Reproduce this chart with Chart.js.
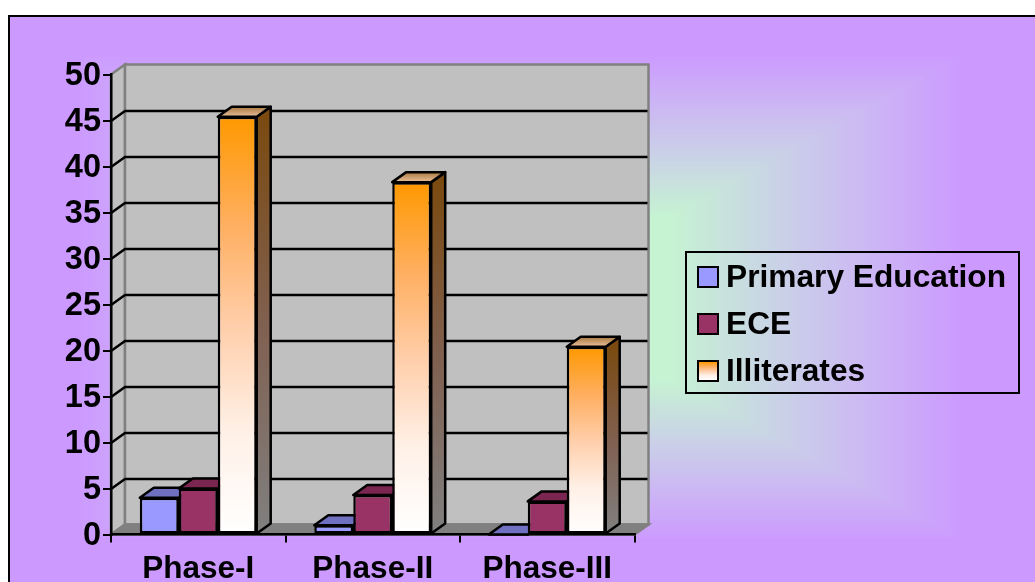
<!DOCTYPE html>
<html>
<head>
<meta charset="utf-8">
<title>Phases</title>
<script src="https://cdn.jsdelivr.net/npm/chart.js@4"></script>
<style>
  html, body { margin: 0; padding: 0; background: #fff; overflow: hidden; }
  #wrap { position: relative; width: 1035px; height: 582px; }
  #legendBox {
    position: absolute; left: 685px; top: 251px; width: 331px; height: 139px;
    border: 2.5px solid #000;
    font: bold 31.7px "Liberation Sans", Arial, sans-serif; color: #000;
  }
  .row { position: absolute; left: 0; height: 36px; line-height: 36px; white-space: nowrap; }
  .swatch {
    position: absolute; left: 9.5px; top: 7px; width: 18px; height: 18px;
    border: 2.5px solid #000;
  }
  .row span { position: absolute; left: 39px; top: -1px; }
</style>
</head>
<body>
<div id="wrap">
  <canvas id="chart" width="1035" height="582"></canvas>
  <div id="legendBox"></div>
</div>
<script>
const categories = ['Phase-I', 'Phase-II', 'Phase-III'];
const seriesNames = ['Primary Education', 'ECE', 'Illiterates'];
const primaryValues = [4, 1, 0];
const eceValues = [5, 4.3, 3.6];
const illiterateValues = [45.4, 38.3, 20.4];
const yTicks = [0, 5, 10, 15, 20, 25, 30, 35, 40, 45, 50];

// 3d look: how far the back wall is shifted from the front plane
const depthX = 14;
const depthY = 10;
const xFont = { family: '"Liberation Sans", Arial, sans-serif', weight: 'bold', size: 31.5 };
const yFont = { family: '"Liberation Sans", Arial, sans-serif', weight: 'bold', size: 32.5 };

const faceColors = ['#9999FF', '#993366'];
const topColors = ['#7070C0', '#7A2650'];
const sideColors = ['#4D4D80', '#4D1A33'];
const orangeStops = [[0, '#FF9900'], [0.25, '#FFAE5E'], [0.5, '#FFCEAA'], [0.75, '#FFF0E6'], [1, '#FFFFFF']];

function vGradient(ctx, y0, y1, stops) {
  const g = ctx.createLinearGradient(0, y0, 0, y1);
  stops.forEach(s => g.addColorStop(s[0], s[1]));
  return g;
}

// background: rectangular "from center" gradient, same shape as the frame
function mix(t) {
  const stops = [
    [0, 198, 244, 210], [0.33, 198, 244, 210], [0.55, 201, 214, 228],
    [0.75, 204, 188, 242], [1, 204, 153, 255]
  ];
  for (let i = 1; i < stops.length; i++) {
    if (t <= stops[i][0]) {
      const a = stops[i - 1], b = stops[i];
      const k = (t - a[0]) / (b[0] - a[0]);
      return `rgb(${a[1] + (b[1] - a[1]) * k},${a[2] + (b[2] - a[2]) * k},${a[3] + (b[3] - a[3]) * k})`;
    }
  }
  return '#CC99FF';
}

function face(ctx, pts, fill) {
  ctx.beginPath();
  pts.forEach((p, i) => i ? ctx.lineTo(p[0], p[1]) : ctx.moveTo(p[0], p[1]));
  ctx.closePath();
  ctx.fillStyle = fill;
  ctx.fill();
  ctx.stroke();
}

const walls = {
  id: 'walls',
  beforeDraw(chart) {
    const ctx = chart.ctx;
    const { left, right, top, bottom } = chart.chartArea;
    ctx.save();
    ctx.fillStyle = '#fff';
    ctx.fillRect(0, 0, 1035, 582);
    ctx.fillStyle = '#CC99FF';
    ctx.fillRect(8, 15, 1027, 567);
    for (let i = 150; i >= 0; i--) {
      const t = i / 150;
      ctx.fillStyle = mix(t);
      ctx.fillRect(521 - 445 * t, 298 - 245 * t, 890 * t, 490 * t);
    }
    ctx.fillStyle = '#000';
    ctx.fillRect(8, 15, 2, 567);
    ctx.fillRect(8, 15, 1027, 2);

    // side wall, back wall, floor
    ctx.strokeStyle = '#808080';
    ctx.lineWidth = 2.5;
    ctx.lineJoin = 'miter';
    face(ctx, [[left, top], [left + depthX, top - depthY], [left + depthX, bottom - depthY], [left, bottom]], '#C0C0C0');
    face(ctx, [[left + depthX, top - depthY], [right + depthX, top - depthY], [right + depthX, bottom - depthY], [left + depthX, bottom - depthY]], '#C0C0C0');
    face(ctx, [[left, bottom], [left + depthX, bottom - depthY], [right + depthX, bottom - depthY], [right, bottom]], '#808080');

    // gridlines run along the side wall and across the back wall
    const y = chart.scales.y;
    ctx.strokeStyle = '#000';
    ctx.lineWidth = 2.5;
    yTicks.slice(1, -1).forEach(v => {
      const py = Math.round(y.getPixelForValue(v));
      ctx.beginPath();
      ctx.moveTo(left, py);
      ctx.lineTo(left + depthX, py - depthY);
      ctx.lineTo(right + depthX - 1, py - depthY);
      ctx.stroke();
    });
    ctx.restore();
  }
};

const barDepth = {
  id: 'barDepth',
  beforeDatasetsDraw(chart) {
    const ctx = chart.ctx;
    ctx.save();
    ctx.strokeStyle = '#000';
    ctx.lineWidth = 2.5;
    ctx.lineJoin = 'round';
    chart.data.datasets.forEach((ds, d) => {
      chart.getDatasetMeta(d).data.forEach(bar => {
        const x0 = bar.x - bar.width / 2;
        const x1 = bar.x + bar.width / 2;
        const top = bar.y;
        const base = bar.base;
        let sideFill = sideColors[d];
        let topFill = topColors[d];
        if (d === 2) {
          sideFill = vGradient(ctx, top, base, [[0, '#7A4A10'], [0.5, '#806050'], [1, '#808080']]);
          topFill = vGradient(ctx, top - depthY, top, [[0, '#A87840'], [1, '#EAC09A']]);
        }
        face(ctx, [[x1, top], [x1 + depthX, top - depthY], [x1 + depthX, base - depthY], [x1, base]], sideFill);
        face(ctx, [[x0, top], [x0 + depthX, top - depthY], [x1 + depthX, top - depthY], [x1, top]], topFill);
      });
    });
    ctx.restore();
  }
};

function illiterateFill(context) {
  const chart = context.chart;
  const y = chart.scales.y;
  if (!y || context.raw === undefined) return '#FF9900';
  const y0 = y.getPixelForValue(context.raw);
  const y1 = y.getPixelForValue(0);
  if (!isFinite(y0) || !isFinite(y1)) return '#FF9900';
  return vGradient(chart.ctx, y0, y1, orangeStops);
}

const barStyle = {
  borderColor: '#000',
  borderWidth: 2.5,
  borderSkipped: false,
  barPercentage: 1,
  categoryPercentage: 0.67
};

new Chart(document.getElementById('chart'), {
  type: 'bar',
  data: {
    labels: categories,
    datasets: [
      { label: seriesNames[0], data: primaryValues, backgroundColor: faceColors[0], ...barStyle },
      { label: seriesNames[1], data: eceValues, backgroundColor: faceColors[1], ...barStyle },
      { label: seriesNames[2], data: illiterateValues, backgroundColor: illiterateFill, ...barStyle }
    ]
  },
  plugins: [walls, barDepth],
  options: {
    responsive: false,
    animation: false,
    layout: { padding: { left: 0, top: 74.5, right: 400.5, bottom: 0 } },
    plugins: { legend: { display: false }, title: { display: false }, tooltip: { enabled: false } },
    scales: {
      x: {
        afterFit(scale) { scale.height = 47.5; },
        border: { color: '#000', width: 2.5 },
        grid: { drawOnChartArea: false, color: '#000', lineWidth: 2, tickLength: 8, offset: true },
        ticks: { color: '#000', font: xFont, padding: 8, maxRotation: 0, autoSkip: false }
      },
      y: {
        min: 0,
        max: 50,
        afterFit(scale) { scale.width = 111; },
        afterBuildTicks(scale) { scale.ticks = yTicks.map(v => ({ value: v })); },
        border: { color: '#000', width: 2.5 },
        grid: { drawOnChartArea: false, color: '#000', lineWidth: 2, tickLength: 8 },
        ticks: { color: '#000', font: yFont, padding: 2, labelOffset: 2 }
      }
    }
  }
});

// legend is html so it can sit outside the plot, same as the original box
const legendBox = document.getElementById('legendBox');
const swatches = [
  faceColors[0],
  faceColors[1],
  'linear-gradient(' + orangeStops.map(s => s[1] + ' ' + s[0] * 100 + '%').join(',') + ')'
];
seriesNames.forEach((name, i) => {
  const row = document.createElement('div');
  row.className = 'row';
  row.style.top = (6 + i * 47) + 'px';
  const sw = document.createElement('div');
  sw.className = 'swatch';
  sw.style.background = swatches[i];
  const label = document.createElement('span');
  label.textContent = name;
  row.appendChild(sw);
  row.appendChild(label);
  legendBox.appendChild(row);
});
</script>
</body>
</html>
